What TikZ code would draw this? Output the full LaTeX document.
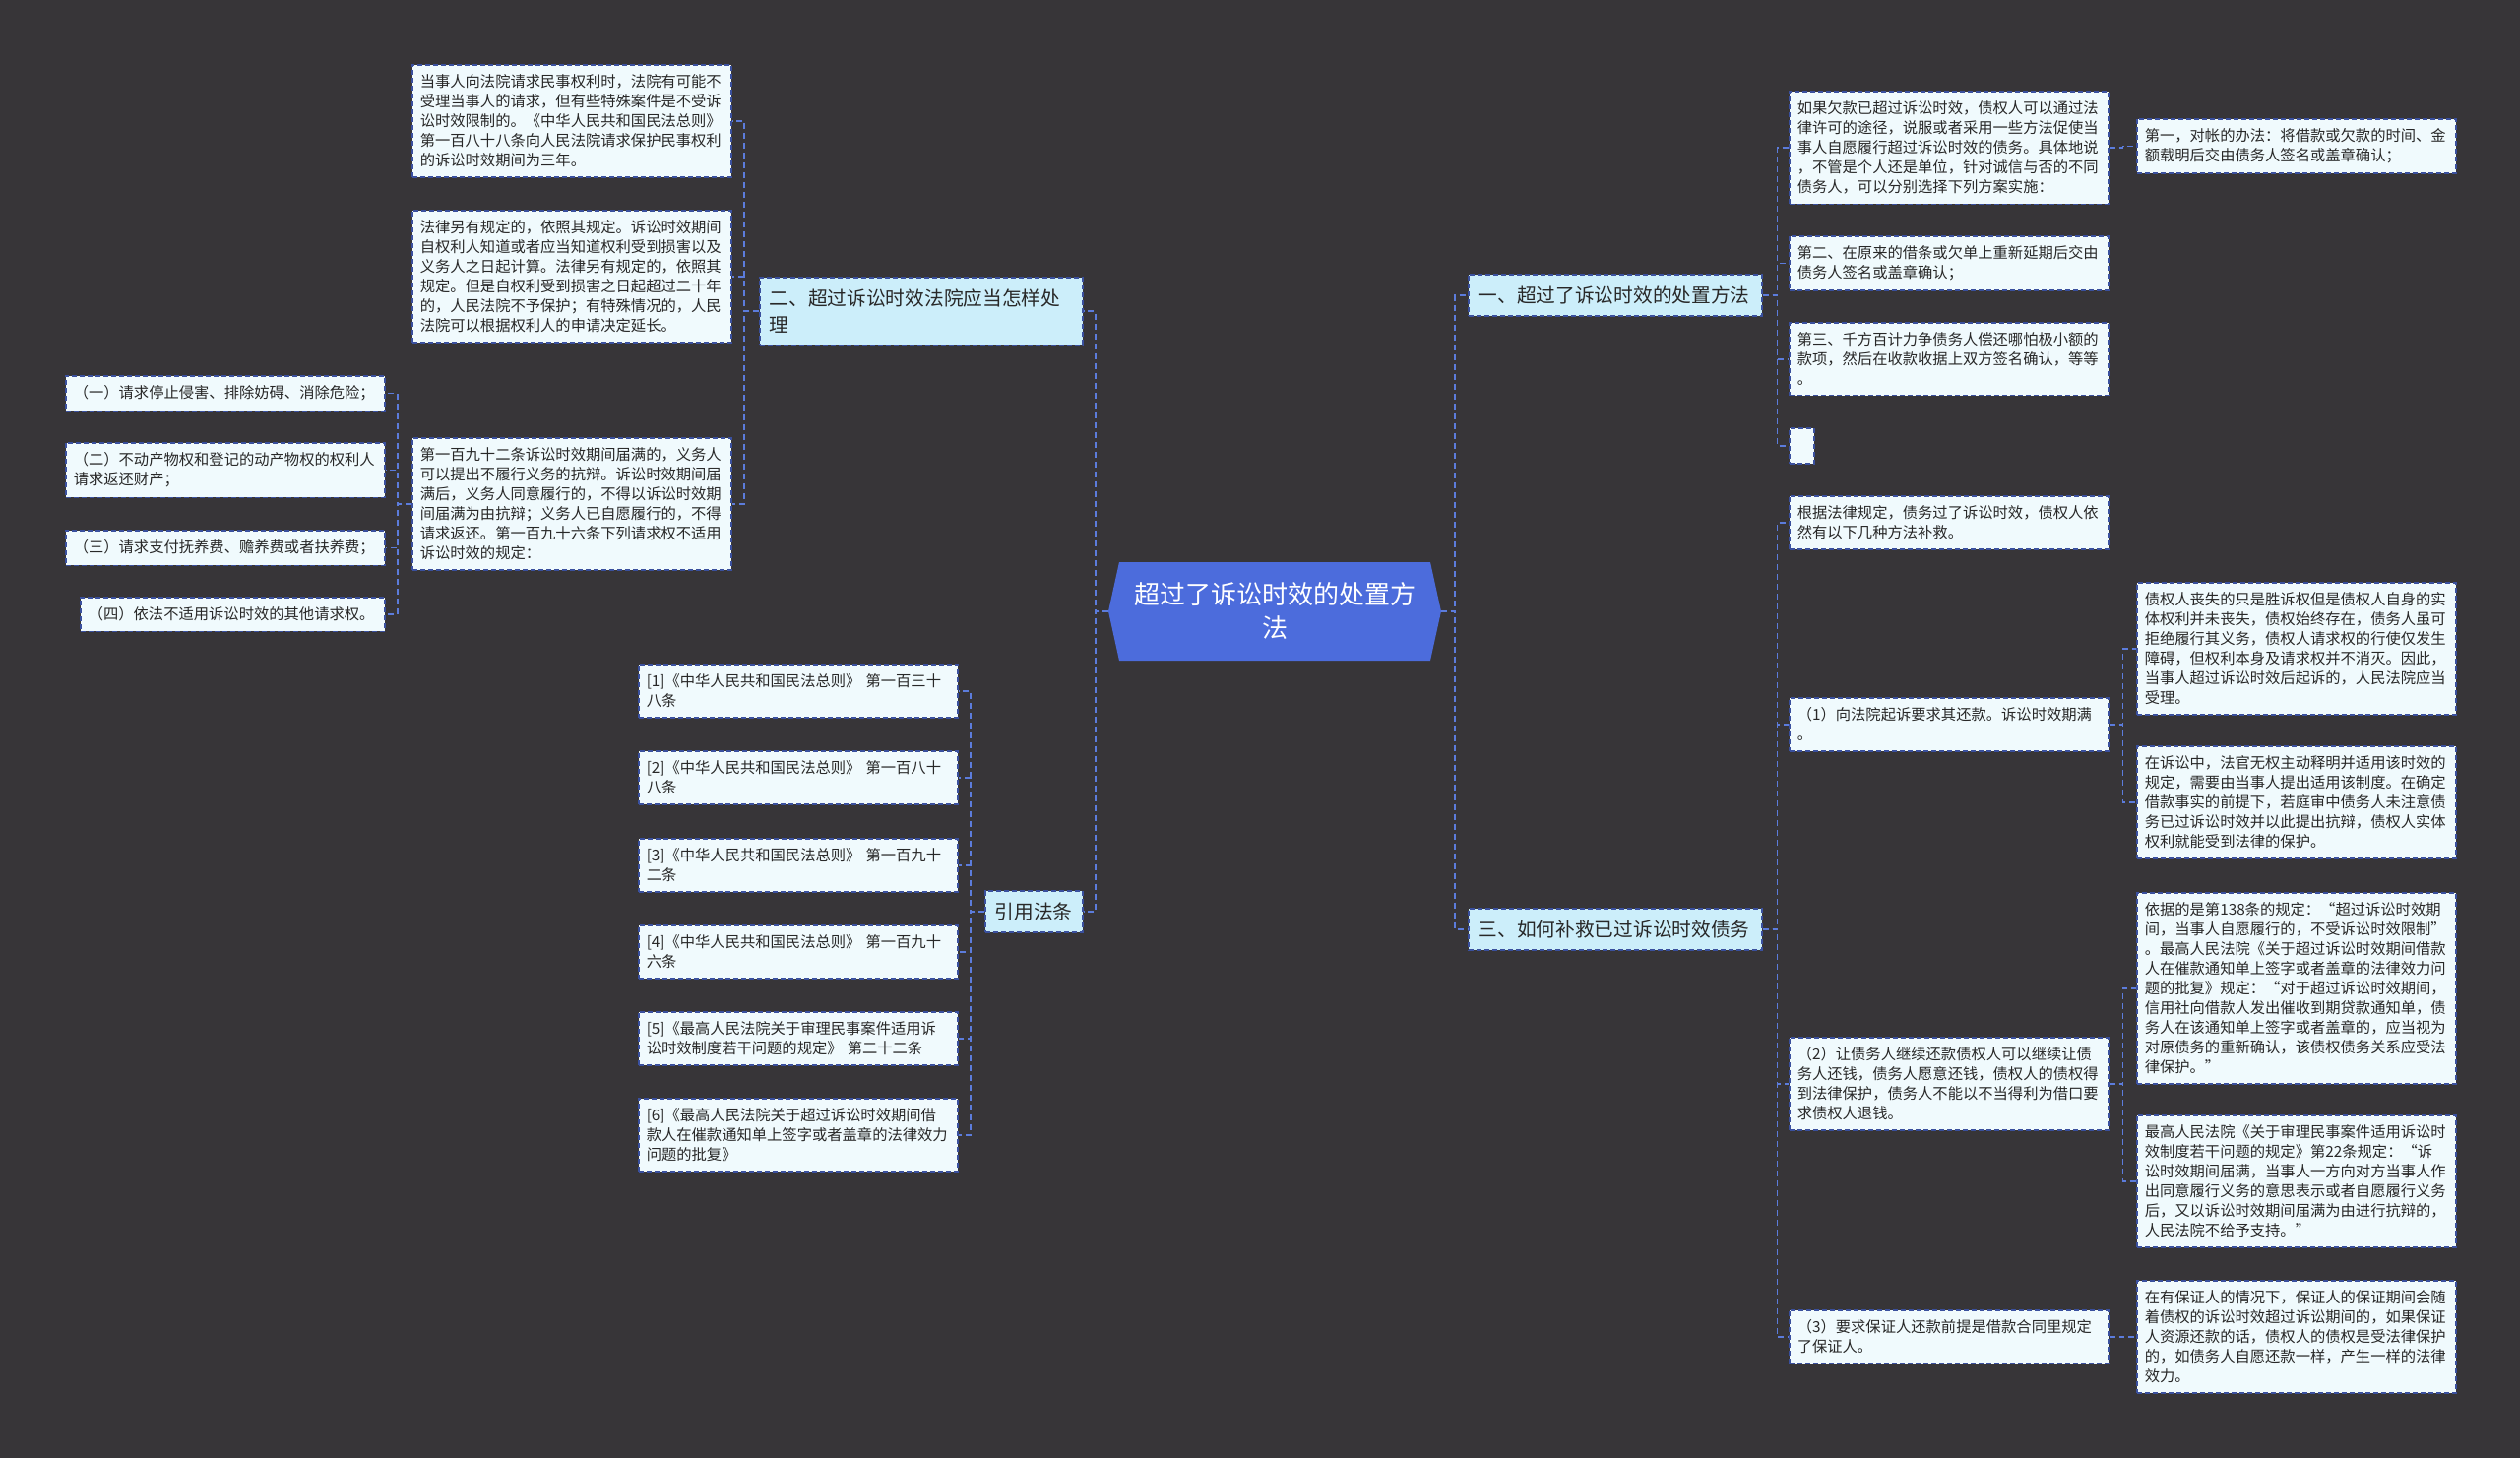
\documentclass[tikz,border=0pt]{standalone}
\usepackage{fontspec}
\setmainfont{Noto Sans CJK SC}

\definecolor{bgdark}{RGB}{55,53,56}
\definecolor{leaffill}{RGB}{240,250,253}
\definecolor{topicfill}{RGB}{204,238,250}
\definecolor{rootfill}{RGB}{76,108,220}
\definecolor{edgeblue}{RGB}{58,80,158}
\definecolor{linkblue}{RGB}{92,124,220}
\definecolor{inkgray}{RGB}{40,40,40}

\begin{document}
\begin{tikzpicture}[x=1pt, y=-1pt,
  leaf/.style={draw=edgeblue, dash pattern=on 5pt off 3pt, line width=1.5pt, fill=leaffill, text=inkgray,
    anchor=north west, align=left, text width=308pt, inner xsep=8pt, inner ysep=10pt,
    font=\fontsize{15.3}{20}\selectfont},
  topic/.style={draw=edgeblue, dash pattern=on 5pt off 3pt, line width=1.5pt, fill=topicfill, text=inkgray,
    anchor=north west, align=left, inner xsep=10pt, inner ysep=12pt,
    font=\fontsize{19.7}{27}\selectfont},
  link/.style={draw=linkblue, dash pattern=on 6pt off 4pt, line width=1.8pt}]
  \fill[bgdark] (0,0) rectangle (2560,1481);

  \fill[rootfill] (1137,571) -- (1453,571) -- (1464,621) -- (1453,671)
    -- (1137,671) -- (1126,621) -- cycle;
  \node[text=white, align=center, minimum width=337pt, minimum height=100pt, inner sep=0pt,
    font=\fontsize{26}{34}\selectfont] (root) at (1295,621) {超过了诉讼时效的处置方\\法};

  \node[topic, text width=308pt] (er) at (771,281) {二、超过诉讼时效法院应当怎样处\\理};
  \node[topic, text width=79pt] (yinyong) at (1000,904) {引用法条};
  \node[topic, text width=278pt] (yi) at (1491,278) {一、超过了诉讼时效的处置方法};
  \node[topic, text width=278pt] (san) at (1491,922) {三、如何补救已过诉讼时效债务};

  \node[leaf] (a1) at (418,65) {当事人向法院请求民事权利时，法院有可能不\\受理当事人的请求，但有些特殊案件是不受诉\\讼时效限制的。《中华人民共和国民法总则》\\第一百八十八条向人民法院请求保护民事权利\\的诉讼时效期间为三年。};
  \node[leaf] (a2) at (418,213) {法律另有规定的，依照其规定。诉讼时效期间\\自权利人知道或者应当知道权利受到损害以及\\义务人之日起计算。法律另有规定的，依照其\\规定。但是自权利受到损害之日起超过二十年\\的，人民法院不予保护；有特殊情况的，人民\\法院可以根据权利人的申请决定延长。};
  \node[leaf] (a3) at (418,444) {第一百九十二条诉讼时效期间届满的，义务人\\可以提出不履行义务的抗辩。诉讼时效期间届\\满后，义务人同意履行的，不得以诉讼时效期\\间届满为由抗辩；义务人已自愿履行的，不得\\请求返还。第一百九十六条下列请求权不适用\\诉讼时效的规定：};

  \node[leaf] (q1) at (66,381) {（一）请求停止侵害、排除妨碍、消除危险；};
  \node[leaf] (q2) at (66,449) {（二）不动产物权和登记的动产物权的权利人\\请求返还财产；};
  \node[leaf] (q3) at (66,538) {（三）请求支付抚养费、赡养费或者扶养费；};
  \node[leaf, text width=293pt] (q4) at (81,606) {（四）依法不适用诉讼时效的其他请求权。};

  \node[leaf] (r1) at (648,674) {[1]《中华人民共和国民法总则》 第一百三十\\八条};
  \node[leaf] (r2) at (648,762) {[2]《中华人民共和国民法总则》 第一百八十\\八条};
  \node[leaf] (r3) at (648,851) {[3]《中华人民共和国民法总则》 第一百九十\\二条};
  \node[leaf] (r4) at (648,939) {[4]《中华人民共和国民法总则》 第一百九十\\六条};
  \node[leaf] (r5) at (648,1027) {[5]《最高人民法院关于审理民事案件适用诉\\讼时效制度若干问题的规定》 第二十二条};
  \node[leaf] (r6) at (648,1115) {[6]《最高人民法院关于超过诉讼时效期间借\\款人在催款通知单上签字或者盖章的法律效力\\问题的批复》};

  \node[leaf] (b1) at (1817,92) {如果欠款已超过诉讼时效，债权人可以通过法\\律许可的途径，说服或者采用一些方法促使当\\事人自愿履行超过诉讼时效的债务。具体地说\\，不管是个人还是单位，针对诚信与否的不同\\债务人，可以分别选择下列方案实施：};
  \node[leaf] (b2) at (1817,239) {第二、在原来的借条或欠单上重新延期后交由\\债务人签名或盖章确认；};
  \node[leaf] (b3) at (1817,327) {第三、千方百计力争债务人偿还哪怕极小额的\\款项，然后在收款收据上双方签名确认，等等\\。};
  \node[leaf, text width=9pt, minimum height=36pt] (b4) at (1817,434) {};
  \node[leaf] (c1) at (2170,120) {第一，对帐的办法：将借款或欠款的时间、金\\额载明后交由债务人签名或盖章确认；};

  \node[leaf] (d1) at (1817,503) {根据法律规定，债务过了诉讼时效，债权人依\\然有以下几种方法补救。};
  \node[leaf] (d2) at (1817,708) {（1）向法院起诉要求其还款。诉讼时效期满\\。};
  \node[leaf] (d3) at (1817,1053) {（2）让债务人继续还款债权人可以继续让债\\务人还钱，债务人愿意还钱，债权人的债权得\\到法律保护，债务人不能以不当得利为借口要\\求债权人退钱。};
  \node[leaf] (d4) at (1817,1330) {（3）要求保证人还款前提是借款合同里规定\\了保证人。};

  \node[leaf] (e1) at (2170,591) {债权人丧失的只是胜诉权但是债权人自身的实\\体权利并未丧失，债权始终存在，债务人虽可\\拒绝履行其义务，债权人请求权的行使仅发生\\障碍，但权利本身及请求权并不消灭。因此，\\当事人超过诉讼时效后起诉的，人民法院应当\\受理。};
  \node[leaf] (e2) at (2170,757) {在诉讼中，法官无权主动释明并适用该时效的\\规定，需要由当事人提出适用该制度。在确定\\借款事实的前提下，若庭审中债务人未注意债\\务已过诉讼时效并以此提出抗辩，债权人实体\\权利就能受到法律的保护。};
  \node[leaf] (f1) at (2170,906) {依据的是第138条的规定：“超过诉讼时效期\\间，当事人自愿履行的，不受诉讼时效限制”\\。最高人民法院《关于超过诉讼时效期间借款\\人在催款通知单上签字或者盖章的法律效力问\\题的批复》规定：“对于超过诉讼时效期间，\\信用社向借款人发出催收到期贷款通知单，债\\务人在该通知单上签字或者盖章的，应当视为\\对原债务的重新确认，该债权债务关系应受法\\律保护。”};
  \node[leaf] (f2) at (2170,1132) {最高人民法院《关于审理民事案件适用诉讼时\\效制度若干问题的规定》第22条规定：“诉\\讼时效期间届满，当事人一方向对方当事人作\\出同意履行义务的意思表示或者自愿履行义务\\后，又以诉讼时效期间届满为由进行抗辩的，\\人民法院不给予支持。”};
  \node[leaf] (g1) at (2170,1300) {在有保证人的情况下，保证人的保证期间会随\\着债权的诉讼时效超过诉讼期间的，如果保证\\人资源还款的话，债权人的债权是受法律保护\\的，如债务人自愿还款一样，产生一样的法律\\效力。};

  \foreach \n in {er,yinyong}
    \draw[link] (root.west) -- ++(-13.5,0) |- (\n.east);
  \foreach \n in {yi,san}
    \draw[link] (root.east) -- ++(14.5,0) |- (\n.west);
  \foreach \n in {a1,a2,a3}
    \draw[link] (er.west) -- ++(-15,0) |- (\n.east);
  \foreach \n in {q1,q2,q3,q4}
    \draw[link] (a3.west) -- ++(-14,0) |- (\n.east);
  \foreach \n in {r1,r2,r3,r4,r5,r6}
    \draw[link] (yinyong.west) -- ++(-14,0) |- (\n.east);
  \foreach \n in {b1,b2,b3,b4}
    \draw[link] (yi.east) -- ++(15,0) |- (\n.west);
  \foreach \n in {d1,d2,d3,d4}
    \draw[link] (san.east) -- ++(15,0) |- (\n.west);
  \draw[link] (b1.east) -- ++(14,0) |- (c1.west);
  \foreach \n in {e1,e2}
    \draw[link] (d2.east) -- ++(14,0) |- (\n.west);
  \foreach \n in {f1,f2}
    \draw[link] (d3.east) -- ++(14,0) |- (\n.west);
  \draw[link] (d4.east) -- ++(14,0) |- (g1.west);
\end{tikzpicture}
\end{document}
